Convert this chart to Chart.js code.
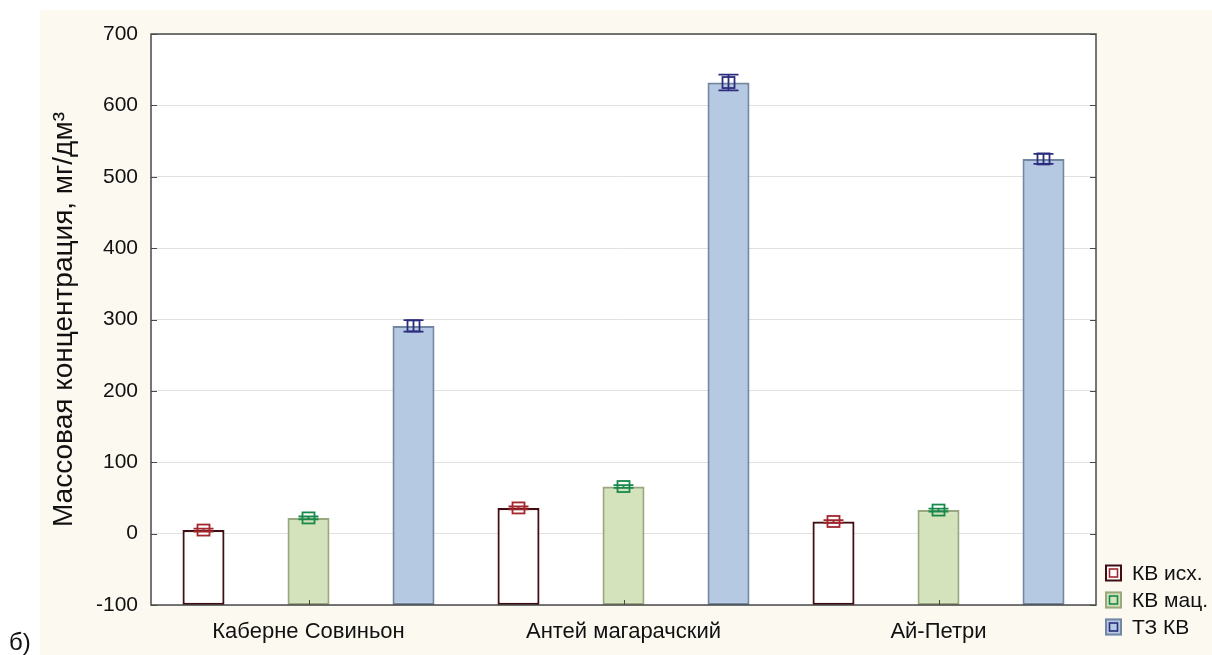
<!DOCTYPE html>
<html>
<head>
<meta charset="utf-8">
<script src="https://cdn.jsdelivr.net/npm/chart.js@4.4.1/dist/chart.umd.min.js"></script>
<style>
  html, body { margin: 0; padding: 0; background: #ffffff; }
  #wrap { position: relative; width: 1212px; height: 655px; }
  canvas { display: block; }
</style>
</head>
<body>
<div id="wrap"><canvas id="c" width="1212" height="655"></canvas></div>
<script>
// Sorts of grape
const categories = ['Каберне Совиньон', 'Антей магарачский', 'Ай-Петри'];
const seriesNames = ['КВ исх.', 'КВ мац.', 'ТЗ КВ'];

// Mean mass concentration, mg/dm3
const kvInitial = [5, 36, 17];
const kvMacerated = [22, 66, 33];
const tzKv = [291, 632, 525];

// Half-width of the error bars
const kvInitialErr = [2, 2, 2];
const kvMaceratedErr = [2, 2, 2];
const tzKvErr = [8, 11, 7];

const yTicks = [-100, 0, 100, 200, 300, 400, 500, 600, 700];

const FONT = '"Liberation Sans", Arial, sans-serif';
const AXIS_BASE = -100;

const styles = [
  { fill: '#ffffff', border: '#3f0d12', marker: '#a3262d' },
  { fill: '#d5e3bc', border: '#99a87e', marker: '#17894a' },
  { fill: '#b6c9e2', border: '#7387a3', marker: '#2b2c7d' }
];

const values = [kvInitial, kvMacerated, tzKv];
const errors = [kvInitialErr, kvMaceratedErr, tzKvErr];

const datasets = values.map((vals, i) => ({
  label: seriesNames[i],
  data: vals.map(v => [AXIS_BASE, v]),
  backgroundColor: styles[i].fill,
  borderColor: styles[i].border,
  borderWidth: 2.2,
  borderSkipped: false,
  barPercentage: 0.4,
  categoryPercentage: 1.0
}));

// Page background, plot frame and inward tick marks
const framePlugin = {
  id: 'frame',
  beforeDraw(chart) {
    const { ctx, chartArea: a } = chart;
    ctx.save();
    ctx.fillStyle = '#fcf9f1';
    ctx.fillRect(40, 10, chart.width - 40, chart.height - 10);
    ctx.fillStyle = '#ffffff';
    ctx.fillRect(a.left, a.top, a.right - a.left, a.bottom - a.top);
    ctx.restore();
  },
  afterDraw(chart) {
    const { ctx, chartArea: a, scales } = chart;
    ctx.save();
    ctx.strokeStyle = '#4a4a4a';
    ctx.lineWidth = 1.5;
    ctx.strokeRect(a.left, a.top, a.right - a.left, a.bottom - a.top);
    ctx.lineWidth = 1;
    ctx.beginPath();
    yTicks.forEach(t => {
      const y = Math.round(scales.y.getPixelForValue(t)) + 0.5;
      ctx.moveTo(a.left, y); ctx.lineTo(a.left + 6, y);
      ctx.moveTo(a.right, y); ctx.lineTo(a.right - 6, y);
    });
    categories.forEach((c, i) => {
      const x = Math.round(scales.x.getPixelForValue(i)) + 0.5;
      ctx.moveTo(x, a.bottom); ctx.lineTo(x, a.bottom - 5);
    });
    ctx.stroke();

    // legend
    const lx = 1105, ly0 = 573, step = 27, box = 17;
    ctx.font = '21px ' + FONT;
    ctx.textBaseline = 'middle';
    seriesNames.forEach((name, i) => {
      const cy = ly0 + i * step;
      ctx.fillStyle = styles[i].fill;
      ctx.fillRect(lx, cy - box / 2, box, box);
      ctx.strokeStyle = styles[i].border;
      ctx.lineWidth = 2;
      ctx.strokeRect(lx + 1, cy - box / 2 + 1, box - 2, box - 2);
      ctx.strokeStyle = styles[i].marker;
      ctx.lineWidth = 1.6;
      ctx.strokeRect(lx + 4.5, cy - 4, 8, 8);
      ctx.fillStyle = '#111111';
      ctx.fillText(name, lx + 27, cy + 1);
    });

    // panel letter
    ctx.font = '24px ' + FONT;
    ctx.fillStyle = '#111111';
    ctx.textBaseline = 'alphabetic';
    ctx.fillText('б)', 9, 650);
    ctx.restore();
  }
};

// Error bars with a square mean marker
const errorBarPlugin = {
  id: 'errorBars',
  afterDatasetsDraw(chart) {
    const { ctx, scales } = chart;
    ctx.save();
    chart.data.datasets.forEach((ds, i) => {
      const meta = chart.getDatasetMeta(i);
      ctx.strokeStyle = styles[i].marker;
      ctx.lineWidth = 1.8;
      meta.data.forEach((bar, j) => {
        const m = values[i][j], e = errors[i][j];
        const x = bar.x;
        const yHi = scales.y.getPixelForValue(m + e);
        const yLo = scales.y.getPixelForValue(m - e);
        const yM = scales.y.getPixelForValue(m);
        ctx.beginPath();
        ctx.moveTo(x, yHi); ctx.lineTo(x, yLo);
        ctx.moveTo(x - 10, yHi); ctx.lineTo(x + 10, yHi);
        ctx.moveTo(x - 10, yLo); ctx.lineTo(x + 10, yLo);
        ctx.stroke();
        ctx.strokeRect(x - 6, yM - 5.5, 12, 11);
      });
    });
    ctx.restore();
  }
};

new Chart(document.getElementById('c'), {
  type: 'bar',
  data: { labels: categories, datasets },
  options: {
    responsive: false,
    animation: false,
    devicePixelRatio: 1,
    layout: { padding: { left: 0, top: 34, right: 116, bottom: 0 } },
    plugins: { legend: { display: false }, tooltip: { enabled: false } },
    scales: {
      x: {
        grid: { display: false, drawTicks: false },
        border: { display: false },
        ticks: { color: '#111111', font: { family: FONT, size: 22 }, padding: 14 },
        afterFit(s) { s.height = 50; }
      },
      y: {
        min: -100,
        max: 700,
        afterBuildTicks(s) { s.ticks = yTicks.map(v => ({ value: v })); },
        grid: { color: '#e1e1e1', lineWidth: 1, drawTicks: false },
        border: { display: false },
        ticks: { color: '#111111', font: { family: FONT, size: 21 }, padding: 13 },
        title: {
          display: true,
          text: 'Массовая концентрация, мг/дм³',
          color: '#111111',
          font: { family: FONT, size: 28 },
          padding: { top: 47, bottom: 0 }
        },
        afterFit(s) { s.width = 151; }
      }
    }
  },
  plugins: [framePlugin, errorBarPlugin]
});
</script>
</body>
</html>
